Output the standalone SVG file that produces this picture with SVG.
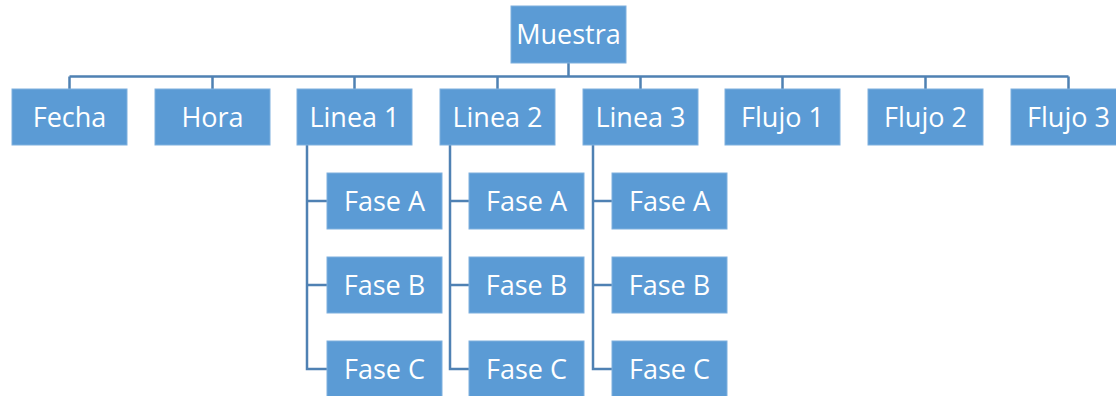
<svg xmlns="http://www.w3.org/2000/svg" width="1116" height="396" viewBox="0 0 1116 396">
<style>
.box{fill:#5B9BD5;stroke:#7FB0DE;stroke-width:1}
.lbl{font-family:"Open Sans","Liberation Sans",sans-serif;font-size:27px;fill:#FFFFFF;text-anchor:middle}
.con{fill:none;stroke:#4F81B3;stroke-width:2.5}
</style>
<rect width="1116" height="396" fill="#FFFFFF"/>
<g id="connectors">
<path class="con" d="M568.5,63 V76.5 M69.5,76.5 H1068.5 M69.5,76.5 V89 M212.5,76.5 V89 M354.5,76.5 V89 M497.5,76.5 V89 M640.5,76.5 V89 M782.5,76.5 V89 M925.5,76.5 V89 M1068.5,76.5 V89"/>
<path class="con" d="M307,145 V369 H327 M307,201 H327 M307,285 H327"/>
<path class="con" d="M450,145 V369 H469 M450,201 H469 M450,285 H469"/>
<path class="con" d="M593,145 V369 H612 M593,201 H612 M593,285 H612"/>
</g>
<g id="muestra"><rect class="box" x="511" y="6" width="115" height="57"/><text class="lbl" x="568.5" y="44">Muestra</text></g>
<g id="fecha"><rect class="box" x="12" y="89" width="115" height="56"/><text class="lbl" x="69.5" y="126.5">Fecha</text></g>
<g id="hora"><rect class="box" x="155" y="89" width="115" height="56"/><text class="lbl" x="212.5" y="126.5">Hora</text></g>
<g id="linea1"><rect class="box" x="297" y="89" width="115" height="56"/><text class="lbl" x="354.5" y="126.5">Linea 1</text></g>
<g id="linea2"><rect class="box" x="440" y="89" width="115" height="56"/><text class="lbl" x="497.5" y="126.5">Linea 2</text></g>
<g id="linea3"><rect class="box" x="583" y="89" width="115" height="56"/><text class="lbl" x="640.5" y="126.5">Linea 3</text></g>
<g id="flujo1"><rect class="box" x="725" y="89" width="115" height="56"/><text class="lbl" x="782.5" y="126.5">Flujo 1</text></g>
<g id="flujo2"><rect class="box" x="868" y="89" width="115" height="56"/><text class="lbl" x="925.5" y="126.5">Flujo 2</text></g>
<g id="flujo3"><rect class="box" x="1011" y="89" width="115" height="56"/><text class="lbl" x="1068.5" y="126.5">Flujo 3</text></g>
<g id="l1-fase-a"><rect class="box" x="327" y="173" width="115" height="56"/><text class="lbl" x="384.5" y="210.5">Fase A</text></g>
<g id="l1-fase-b"><rect class="box" x="327" y="257" width="115" height="56"/><text class="lbl" x="384.5" y="294.5">Fase B</text></g>
<g id="l1-fase-c"><rect class="box" x="327" y="341" width="115" height="56"/><text class="lbl" x="384.5" y="378.5">Fase C</text></g>
<g id="l2-fase-a"><rect class="box" x="469" y="173" width="115" height="56"/><text class="lbl" x="526.5" y="210.5">Fase A</text></g>
<g id="l2-fase-b"><rect class="box" x="469" y="257" width="115" height="56"/><text class="lbl" x="526.5" y="294.5">Fase B</text></g>
<g id="l2-fase-c"><rect class="box" x="469" y="341" width="115" height="56"/><text class="lbl" x="526.5" y="378.5">Fase C</text></g>
<g id="l3-fase-a"><rect class="box" x="612" y="173" width="115" height="56"/><text class="lbl" x="669.5" y="210.5">Fase A</text></g>
<g id="l3-fase-b"><rect class="box" x="612" y="257" width="115" height="56"/><text class="lbl" x="669.5" y="294.5">Fase B</text></g>
<g id="l3-fase-c"><rect class="box" x="612" y="341" width="115" height="56"/><text class="lbl" x="669.5" y="378.5">Fase C</text></g>
</svg>
